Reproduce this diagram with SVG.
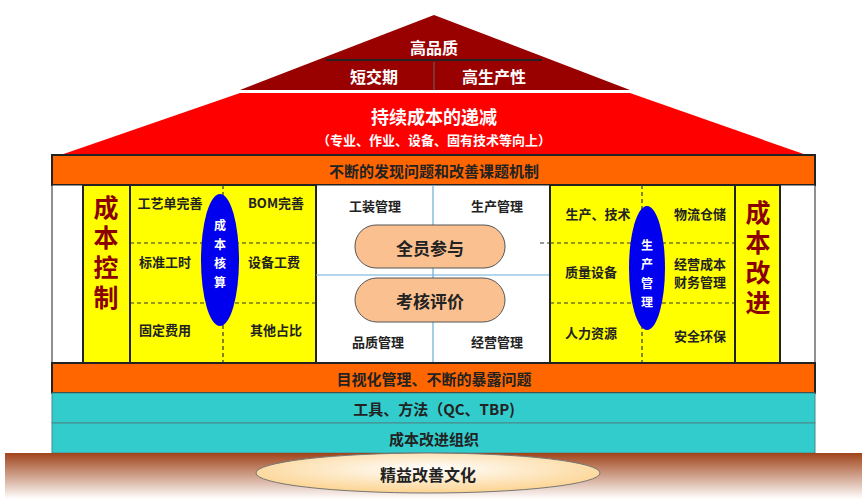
<svg xmlns="http://www.w3.org/2000/svg" width="867" height="499" viewBox="0 0 867 499">
<defs>
<style>
text{font-family:"Noto Sans CJK SC","Liberation Sans",sans-serif;font-weight:bold;text-anchor:middle;dominant-baseline:central}
.w{fill:#fff}.k{fill:#222;font-size:13px}.dash{stroke:#333;stroke-width:1.2;stroke-dasharray:4,3;fill:none}
.yb{fill:#ffff00;stroke:#222;stroke-width:2}
.big{fill:#8b0000;font-size:25px;writing-mode:vertical-rl;letter-spacing:5px}
.vs{fill:#fff;font-size:12px;writing-mode:vertical-rl;letter-spacing:7px}
.pill{fill:#fac090;stroke:#555;stroke-width:1}
</style>
<linearGradient id="gnd" x1="0" y1="0" x2="0" y2="1"><stop offset="0" stop-color="#a0441a"/><stop offset="1" stop-color="#fff"/></linearGradient>
<radialGradient id="cul" cx="0.5" cy="0.4" r="0.6"><stop offset="0" stop-color="#fff"/><stop offset="1" stop-color="#fcd38f"/></radialGradient>
</defs>
<g id="roof-top"><polygon points="434,15 630,90 240,90" fill="#990000"/>
<line x1="326" y1="60" x2="542" y2="60" stroke="#222" stroke-width="2"/>
<line x1="434" y1="62" x2="434" y2="90" stroke="#666" stroke-width="1"/>
<text x="434" y="47" class="w" font-size="16">高品质</text>
<text x="374" y="76" class="w" font-size="16">短交期</text>
<text x="494" y="76" class="w" font-size="16">高生产性</text></g>
<g id="roof"><polygon points="240,93 630,93 815,158 52,158" fill="#ff0000"/>
<text x="434" y="116" class="w" font-size="18">持续成本的递减</text>
<text x="434" y="139" class="w" font-size="13">（专业、作业、设备、固有技术等向上）</text></g>
<g id="band1"><rect x="52" y="155" width="763" height="30" fill="#ff6600" stroke="#222" stroke-width="2"/>
<text x="434" y="170" fill="#222" font-size="15">不断的发现问题和改善课题机制</text></g>
<g id="body"><rect x="52" y="185" width="763" height="178" fill="#fff" stroke="#222" stroke-width="1"/></g>
<g id="left">
<rect x="83" y="185" width="47" height="178" class="yb"/>
<text x="106" y="255" class="big">成本控制</text>
<rect x="130" y="185" width="186" height="178" class="yb"/>
<path class="dash" d="M223 185V363M130 243H316M130 303H316"/>
<ellipse cx="220" cy="260" rx="19" ry="66" fill="#0000ee"/>
<text x="220" y="257" class="vs">成本核算</text>
<text x="170" y="202" class="k">工艺单完善</text><text x="276" y="202" class="k">BOM完善</text>
<text x="165" y="261" class="k">标准工时</text><text x="274" y="261" class="k">设备工费</text>
<text x="165" y="329" class="k">固定费用</text><text x="276" y="329" class="k">其他占比</text></g>
<g id="center">
<line x1="433" y1="185" x2="433" y2="363" stroke="#6aaed6" stroke-width="1.2"/>
<line x1="316" y1="275" x2="550" y2="275" stroke="#6aaed6" stroke-width="1.2"/>
<rect x="355" y="225" width="150" height="43" rx="21" class="pill"/>
<rect x="355" y="278" width="150" height="44" rx="22" class="pill"/>
<text x="430" y="247" fill="#222" font-size="17">全员参与</text>
<text x="430" y="300" fill="#222" font-size="17">考核评价</text>
<text x="375" y="205" class="k" font-size="12">工装管理</text><text x="497" y="205" class="k" font-size="12">生产管理</text>
<text x="378" y="341" class="k" font-size="12">品质管理</text><text x="497" y="341" class="k" font-size="12">经营管理</text></g>
<g id="right">
<rect x="550" y="185" width="185" height="178" class="yb"/>
<path class="dash" d="M642 185V363M550 243H735M550 303H735M540 243H550"/>
<ellipse cx="647" cy="268" rx="18" ry="62" fill="#0000ee"/>
<text x="647" y="277" class="vs">生产管理</text>
<text x="598" y="213" class="k">生产、技术</text><text x="700" y="213" class="k">物流仓储</text>
<text x="591" y="271" class="k">质量设备</text><text x="700" y="263" class="k">经营成本</text><text x="700" y="281" class="k">财务管理</text>
<text x="591" y="332" class="k">人力资源</text><text x="700" y="335" class="k">安全环保</text>
<rect x="735" y="185" width="45" height="178" class="yb"/>
<text x="758" y="260" class="big">成本改进</text></g>
<g id="band2"><rect x="52" y="363" width="763" height="30" fill="#ff6600" stroke="#222" stroke-width="2"/>
<text x="434" y="378" fill="#222" font-size="15">目视化管理、不断的暴露问题</text></g>
<g id="tools"><rect x="52" y="393" width="763" height="30" fill="#33cccc" stroke="#4a8a8a" stroke-width="1"/>
<text x="434" y="408" fill="#222" font-size="15">工具、方法（QC、TBP)</text></g>
<g id="org"><rect x="52" y="423" width="763" height="30" fill="#33cccc" stroke="#4a8a8a" stroke-width="1"/>
<text x="434" y="438" fill="#222" font-size="15">成本改进组织</text></g>
<g id="ground"><rect x="5" y="453" width="857" height="46" fill="url(#gnd)"/>
<ellipse cx="428" cy="473" rx="172" ry="20" fill="url(#cul)" stroke="#777" stroke-width="1"/>
<text x="428" y="474" fill="#222" font-size="16">精益改善文化</text></g>
</svg>
